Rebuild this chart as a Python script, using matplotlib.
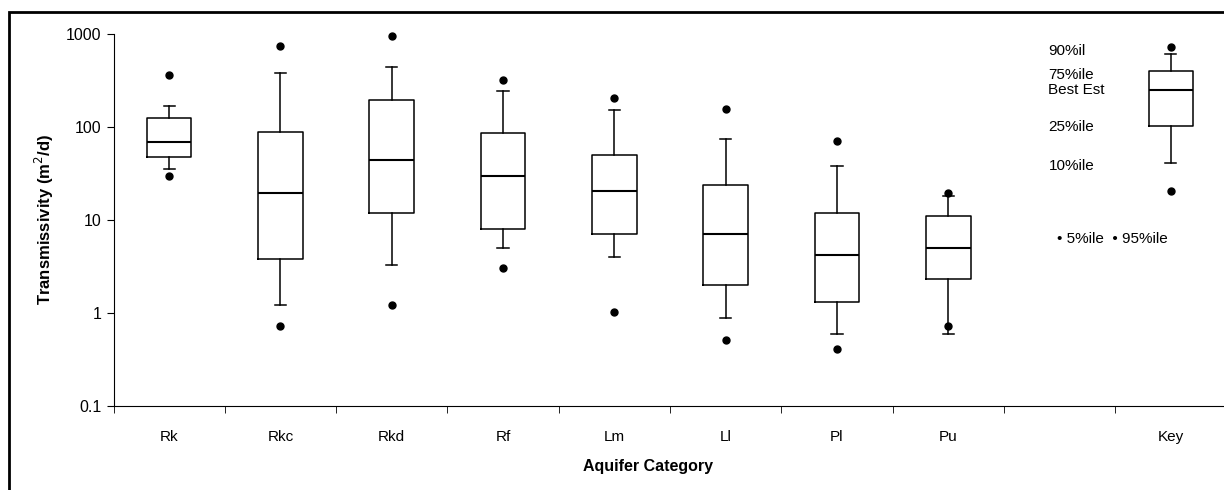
import matplotlib
matplotlib.use("Agg")
import matplotlib.pyplot as plt
from matplotlib.patches import Rectangle

plt.rcParams['font.family'] = ['Liberation Sans', 'DejaVu Sans']

# values (m2/d)
categories = ['Rk', 'Rkc', 'Rkd', 'Rf', 'Lm', 'Ll', 'Pl', 'Pu', 'Key']
positions = [1, 2, 3, 4, 5, 6, 7, 8, 10]
p5 = [30, 0.72, 1.23, 3.05, 1.02, 0.51, 0.41, 0.72, 20.6]
p10 = [35, 1.21, 3.3, 4.96, 4.0, 0.88, 0.60, 0.60, 40.7]
q25 = [47.6, 3.78, 12, 7.94, 7.0, 2.0, 1.32, 2.34, 102]
best = [69.5, 19.4, 44.5, 30, 20.5, 7.0, 4.24, 4.96, 252]
q75 = [126, 89, 197, 86, 50.4, 24, 12, 11.1, 403]
p90 = [167, 381, 442, 246, 152, 73.7, 38.4, 18, 609]
p95 = [360, 743, 959, 318, 205, 155, 70, 19.4, 719]

key_labels = ['90%il', '75%ile', 'Best Est', '25%ile', '10%ile']

stats = []
for i in range(len(categories)):
    stats.append(dict(whislo=p10[i], q1=q25[i], med=best[i], q3=q75[i],
                      whishi=p90[i], fliers=[p5[i], p95[i]]))

fig = plt.figure(figsize=(12.24, 4.9), dpi=100)
# outer frame like the original figure border
fig.patches.append(Rectangle((9 / 1224, -0.1), 1.2, (478 + 49) / 490,
                             transform=fig.transFigure, fill=False,
                             edgecolor='black', linewidth=2))

ax = fig.add_axes([113.5 / 1224, 84 / 490, 1113 / 1224, 372 / 490])
art = ax.bxp(stats, positions=positions, widths=0.4, showfliers=True,
             boxprops=dict(color='black', linewidth=1.1),
             whiskerprops=dict(color='black', linewidth=1.1),
             capprops=dict(color='black', linewidth=1.1),
             medianprops=dict(color='black', linewidth=1.5),
             flierprops=dict(marker='o', markerfacecolor='black',
                             markeredgecolor='black', markersize=5),
             capwidths=0.1)
for f in art['fliers']:
    f.set_clip_on(False)

ax.set_yscale('log')
ax.set_ylim(0.1, 1000)
ax.set_xlim(0.5, 10.5)
ax.set_yticks([0.1, 1, 10, 100, 1000])
ax.set_yticklabels(['0.1', '1', '10', '100', '1000'])
ax.minorticks_off()

# category labels at box centres, tick marks between categories
ax.set_xticks(positions)
ax.set_xticklabels(categories)
ax.tick_params(axis='x', which='major', length=0, pad=17, labelsize=11)
ax.set_xticks([0.5 + k for k in range(10)], minor=True)
ax.tick_params(axis='x', which='minor', length=5, direction='out')
ax.tick_params(axis='y', length=5, direction='out', labelsize=11.5)

for s in ['top', 'right']:
    ax.spines[s].set_visible(False)

ax.set_ylabel('Transmissivity (m$^2$/d)', fontsize=12, fontweight='bold',
              labelpad=7)
fig.text(648 / 1224, 1 - 466 / 490, 'Aquifer Category', ha='center',
         va='center', fontsize=11.5, fontweight='bold')

# key annotations
key_y = [656, 362, 250, 100, 38]
for lab, yv in zip(key_labels, key_y):
    ax.text(8.9, yv, lab, ha='left', va='center', fontsize=11)
ax.text(8.98, 6.25, '\u2022 5%ile  \u2022 95%ile', ha='left', va='center',
        fontsize=11)

fig.savefig('out.png', dpi=100)
